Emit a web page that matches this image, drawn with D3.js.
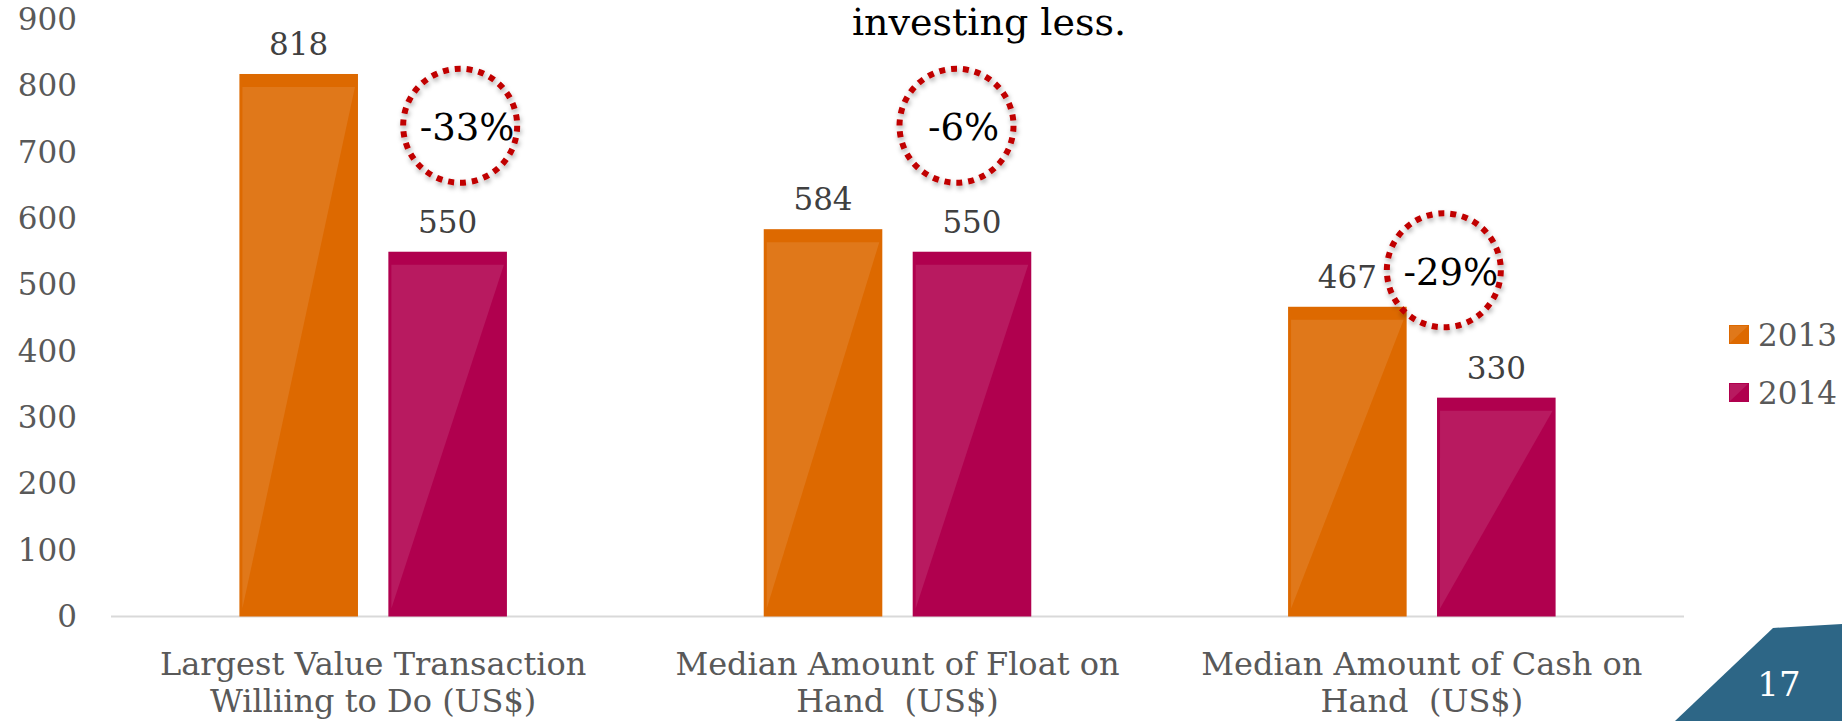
<!DOCTYPE html>
<html>
<head>
<meta charset="utf-8">
<script src="https://cdn.jsdelivr.net/npm/d3@7"></script>
<style>
  html, body { margin: 0; padding: 0; background: #ffffff; }
  svg { display: block; font-family: Georgia, "DejaVu Serif", serif; }
  text { white-space: pre; }
</style>
</head>
<body>
<svg id="chart" width="1842" height="721"></svg>
<script>
// ---- data ----
const categories = [
  "Largest Value Transaction Williing to Do (US$)",
  "Median Amount of Float on Hand  (US$)",
  "Median Amount of Cash on Hand  (US$)"
];
const categoryLines = [
  ["Largest Value Transaction", "Williing to Do (US$)"],
  ["Median Amount of Float on", "Hand  (US$)"],
  ["Median Amount of Cash on", "Hand  (US$)"]
];
const seriesNames = ["2013", "2014"];
const values2013 = [818, 584, 467];
const values2014 = [550, 550, 330];
const yTicks = [0, 100, 200, 300, 400, 500, 600, 700, 800, 900];
const titleText = "investing less.";
const pageNumber = "17";

// ---- styling / layout ----
const seriesColors = { "2013": "#DD6900", "2014": "#B0004E" };
const plot = { left: 111, right: 1684, top: 19.6, bottom: 616.5 };
// change-callout placement: horizontal offset from the group centre (px), height in value units
const calloutLayout = [
  { dx: 87, at: 740 },
  { dx: 59, at: 740 },
  { dx: 22, at: 522 }
];

const svg = d3.select("#chart");

const defs = svg.append("defs");
const shadow = defs.append("filter").attr("id", "ringShadow")
  .attr("x", "-30%").attr("y", "-30%").attr("width", "160%").attr("height", "160%");
shadow.append("feDropShadow")
  .attr("dx", 1).attr("dy", 3).attr("stdDeviation", 2.5)
  .attr("flood-color", "#000").attr("flood-opacity", 0.35);

const x0 = d3.scaleBand().domain(categories).range([plot.left, plot.right]);
const x1 = d3.scaleBand().domain(seriesNames).range([0, x0.bandwidth()])
  .paddingInner(0.204).paddingOuter(0.862);
const y = d3.scaleLinear().domain([0, 900]).range([plot.bottom, plot.top]);

const rows = categories.map((c, i) => ({
  category: c,
  lines: categoryLines[i],
  values: { "2013": values2013[i], "2014": values2014[i] }
}));

// y axis labels
const yAxis = svg.append("g")
  .attr("transform", "translate(77,0)")
  .call(d3.axisLeft(y).tickValues(yTicks).tickSize(0).tickPadding(0).tickFormat(d3.format("d")));
yAxis.select(".domain").remove();
yAxis.attr("font-family", null).attr("font-size", null);
yAxis.selectAll("text")
  .attr("font-size", 31)
  .attr("fill", "#595959");

// baseline
svg.append("line")
  .attr("x1", plot.left).attr("x2", plot.right)
  .attr("y1", y(0)).attr("y2", y(0))
  .attr("stroke", "#D9D9D9").attr("stroke-width", 2);

// bars
const groups = svg.append("g").selectAll("g")
  .data(rows).join("g")
  .attr("transform", d => `translate(${x0(d.category)},0)`);

const bars = groups.selectAll("g.bar")
  .data(d => seriesNames.map(s => ({ series: s, value: d.values[s] })))
  .join("g").attr("class", "bar");

bars.append("rect")
  .attr("x", d => x1(d.series))
  .attr("y", d => y(d.value))
  .attr("width", x1.bandwidth())
  .attr("height", d => y(0) - y(d.value))
  .attr("fill", d => seriesColors[d.series]);

// glossy highlight on each bar
bars.append("polygon")
  .attr("points", d => {
    const l = x1(d.series) + 3, r = x1(d.series) + x1.bandwidth() - 3;
    const t = y(d.value) + 13, b = y(0) - 8;
    return [[l, t], [r, t], [l, b]].map(p => p.join(",")).join(" ");
  })
  .attr("fill", "#ffffff").attr("fill-opacity", 0.1);

// value labels
bars.append("text")
  .attr("x", d => x1(d.series) + x1.bandwidth() / 2)
  .attr("y", d => y(d.value) - 19)
  .attr("text-anchor", "middle")
  .attr("font-size", 31)
  .attr("fill", "#404040")
  .text(d => d.value);

// category labels
const xAxis = svg.append("g");
rows.forEach(r => {
  const t = xAxis.append("text")
    .attr("text-anchor", "middle")
    .attr("font-size", 32)
    .attr("fill", "#595959");
  r.lines.forEach((line, j) => {
    t.append("tspan")
      .attr("x", x0(r.category) + x0.bandwidth() / 2)
      .attr("y", 675 + j * 37)
      .text(line);
  });
});

// change callouts
const callouts = svg.append("g").selectAll("g")
  .data(rows.map((r, i) => ({
    row: r,
    layout: calloutLayout[i],
    change: Math.round((r.values["2014"] - r.values["2013"]) / r.values["2013"] * 100)
  })))
  .join("g")
  .attr("transform", d => `translate(${x0(d.row.category) + x0.bandwidth() / 2 + d.layout.dx},${y(d.layout.at)})`);

callouts.append("circle")
  .attr("r", 57)
  .attr("fill", "none")
  .attr("stroke", "#C00000")
  .attr("stroke-width", 6)
  .attr("stroke-dasharray", "6 5.94")
  .attr("filter", "url(#ringShadow)");

callouts.append("text")
  .attr("x", 7)
  .attr("y", 2)
  .attr("dominant-baseline", "central")
  .attr("text-anchor", "middle")
  .attr("font-size", 37)
  .attr("fill", "#000000")
  .text(d => `${d.change}%`);

// legend
const legend = svg.append("g").selectAll("g")
  .data(seriesNames).join("g")
  .attr("transform", (d, i) => `translate(1729,${325 + i * 58})`);
legend.append("rect")
  .attr("width", 20).attr("height", 19)
  .attr("fill", d => seriesColors[d]);
legend.append("polygon")
  .attr("points", "1,1 19,1 1,18")
  .attr("fill", "#ffffff").attr("fill-opacity", 0.1);
legend.append("text")
  .attr("x", 29).attr("y", 10)
  .attr("dominant-baseline", "central")
  .attr("font-size", 31)
  .attr("fill", "#595959")
  .text(d => d);

// slide title fragment
svg.append("text")
  .attr("x", 989).attr("y", 35)
  .attr("text-anchor", "middle")
  .attr("font-size", 38)
  .attr("fill", "#000000")
  .text(titleText);

// page number tab
svg.append("polygon")
  .attr("points", "1773,628 1842,624 1842,721 1675,721")
  .attr("fill", "#2D6686");
svg.append("text")
  .attr("x", 1779).attr("y", 696)
  .attr("text-anchor", "middle")
  .attr("font-size", 34)
  .attr("fill", "#ffffff")
  .text(pageNumber);
</script>
</body>
</html>
